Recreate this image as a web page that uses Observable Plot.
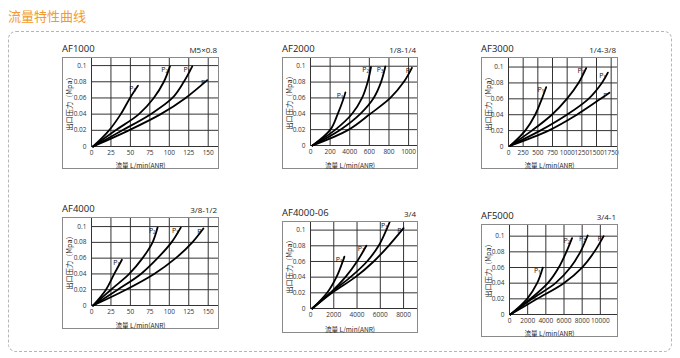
<!DOCTYPE html>
<html><head><meta charset="utf-8">
<script src="https://cdn.jsdelivr.net/npm/d3@7"></script>
<script src="https://cdn.jsdelivr.net/npm/@observablehq/plot@0.6"></script>
<style>
html,body{margin:0;padding:0;background:#fff;}
#root{position:relative;width:680px;height:358px;overflow:hidden;font-family:"Open Sans","Noto Sans CJK SC",sans-serif;color:#222;}
.abs{position:absolute;white-space:nowrap;}
.frame{position:absolute;box-sizing:border-box;border:1px solid #8a8a8a;pointer-events:none;}
.plotbox{position:absolute;}
.plotbox svg{display:block;overflow:visible;}
</style></head>
<body><div id="root"></div>
<script>
// ---------- text ----------
const pageTitle = "流量特性曲线";
const yLabel = "出口压力（Mpa）";
const xLabel = "流量 L/min(ANR)";
const curveLabels = ["P₁", "P₂", "P₃", "P"];
const models = ["AF1000", "AF2000", "AF3000", "AF4000", "AF4000-06", "AF5000"];
const ports = ["M5×0.8", "1/8-1/4", "1/4-3/8", "3/8-1/2", "3/4", "3/4-1"];

// ---------- ticks ----------
const yTicks = [0, 0.02, 0.04, 0.06, 0.08, 0.1];
const yTickLabels = ["0", "0.02", "0.04", "0.06", "0.08", "0.1"];
const af1000Ticks = [0, 25, 50, 75, 100, 125, 150];
const af1000TickLabels = ["0", "25", "50", "75", "100", "125", "150"];
const af2000Ticks = [0, 200, 400, 600, 800, 1000];
const af2000TickLabels = ["0", "200", "4000", "600", "800", "1000"];
const af3000Ticks = [0, 250, 500, 750, 1000, 1250, 1500, 1750];
const af3000TickLabels = ["0", "250", "500", "750", "1000", "1250", "1500", "1750"];
const af4000Ticks = [0, 25, 50, 75, 100, 125, 150];
const af4000TickLabels = ["0", "25", "50", "75", "100", "125", "150"];
const af400006Ticks = [0, 2000, 4000, 6000, 8000];
const af400006TickLabels = ["0", "2000", "4000", "6000", "8000"];
const af5000Ticks = [0, 2000, 4000, 6000, 8000, 10000];
const af5000TickLabels = ["0", "2000", "4000", "6000", "8000", "10000"];

// ---------- curves: [flow L/min, outlet pressure MPa] ----------
const af1000Curves = [
  [[2,0],[22.6,0.02],[37.6,0.04],[49.5,0.06],[59.7,0.075]],
  [[2,0],[31,0.02],[61,0.04],[80,0.06],[93,0.08],[100.8,0.099]],
  [[2,0],[39.7,0.02],[76,0.04],[104,0.06],[118.7,0.08],[129.5,0.099]],
  [[2,0],[48,0.02],[89,0.04],[121,0.06],[148.7,0.082]]
];
const af2000Curves = [
  [[20,0],[203,0.02],[278,0.04],[339,0.06],[356,0.067]],
  [[20,0],[254,0.02],[424,0.04],[526,0.06],[583,0.08],[617,0.099]],
  [[20,0],[305,0.02],[508,0.04],[644,0.06],[719,0.08],[763,0.0996]],
  [[20,0],[390,0.02],[610,0.04],[814,0.06],[950,0.08],[1034,0.098]]
];
const af3000Curves = [
  [[30,0.001],[285,0.02],[455,0.04],[569,0.06],[642,0.0746]],
  [[30,0.001],[398,0.02],[739,0.04],[995,0.06],[1193,0.08],[1324,0.0987]],
  [[30,0.001],[540,0.02],[995,0.04],[1364,0.06],[1591,0.08],[1694,0.093]],
  [[30,0.001],[682,0.02],[1165,0.04],[1570,0.06],[1721,0.0677]]
];
const af4000Curves = [
  [[2,0],[18.6,0.02],[29.2,0.04],[39.1,0.058]],
  [[2,0],[25,0.02],[48.5,0.04],[65.6,0.06],[78.5,0.08],[84.9,0.0987]],
  [[2,0],[33.6,0.02],[63.5,0.04],[84.9,0.06],[102.8,0.08],[114.7,0.0987]],
  [[2,0],[44.2,0.02],[80.5,0.04],[108.3,0.06],[129.6,0.08],[143.8,0.0975]]
];
const af400006Curves = [
  [[150,0],[1429,0.02],[2229,0.04],[2771,0.06],[2914,0.0662]],
  [[150,0],[1714,0.02],[3000,0.04],[4000,0.06],[4800,0.08]],
  [[150,0],[1714,0.02],[3429,0.04],[4857,0.06],[5857,0.08],[6514,0.1],[6800,0.110]],
  [[150,0],[1857,0.02],[3857,0.04],[5429,0.06],[6714,0.08],[8000,0.1025]]
];
const af5000Curves = [
  [[100,0],[1941,0.02],[3040,0.04],[3663,0.0598]],
  [[100,0],[2308,0.02],[4212,0.04],[5421,0.06],[6264,0.08],[6886,0.0975]],
  [[100,0],[2491,0.02],[5055,0.04],[6703,0.06],[7802,0.08],[8608,0.1009]],
  [[100,0],[3040,0.02],[5971,0.04],[7989,0.06],[9341,0.08],[10366,0.100]]
];

// ---------- layout (pixels) ----------
const layout = [
  {L:62,  T:57,  W:157, H:112, mL:29, mB:23, xMax:164.5, yMax:0.110},
  {L:282, T:57,  W:136, H:112, mL:28, mB:24, xMax:1101,  yMax:0.111},
  {L:481, T:57,  W:137, H:112, mL:27, mB:23, xMax:1875,  yMax:0.112},
  {L:62,  T:217, W:157, H:112, mL:29, mB:24, xMax:164.5, yMax:0.1115},
  {L:282, T:221, W:136, H:112, mL:28, mB:25, xMax:9283,  yMax:0.111},
  {L:481, T:224, W:137, H:113, mL:28, mB:23, xMax:12000, yMax:0.1149}
];
const panelTicks = [af1000Ticks, af2000Ticks, af3000Ticks, af4000Ticks, af400006Ticks, af5000Ticks];
const panelTickLabels = [af1000TickLabels, af2000TickLabels, af3000TickLabels, af4000TickLabels, af400006TickLabels, af5000TickLabels];
const panelCurves = [af1000Curves, af2000Curves, af3000Curves, af4000Curves, af400006Curves, af5000Curves];

const root = document.getElementById("root");
function addDiv(cls, css, text) {
  const d = document.createElement("div");
  d.className = cls;
  Object.assign(d.style, css);
  if (text != null) d.textContent = text;
  root.appendChild(d);
  return d;
}

// dashed outline and page title
addDiv("abs", {left:"8px", top:"31px", width:"664px", height:"321px", boxSizing:"border-box",
  border:"1px dashed #b5b5b5", borderRadius:"8px"});
addDiv("abs", {left:"8px", top:"7px", fontSize:"13px", lineHeight:"18px", color:"#f39a2e",
  fontFamily:"'Noto Sans CJK SC',sans-serif"}, pageTitle);

const yMap = new Map(yTicks.map((t, i) => [t, yTickLabels[i]]));

layout.forEach((s, p) => {
  const ticks = panelTicks[p];
  const xMap = new Map(ticks.map((t, i) => [t, panelTickLabels[p][i]]));
  const curves = panelCurves[p];
  const pts = curves.flatMap((c, k) => c.map(([x, y]) => ({x, y, k})));
  const ends = curves.map((c, k) => ({x: c[c.length - 1][0], y: c[c.length - 1][1], label: curveLabels[k]}));
  const base = () => ({
    width: s.W, height: s.H,
    marginLeft: s.mL, marginRight: 0, marginTop: 0, marginBottom: s.mB,
    style: {fontFamily: "'Open Sans',sans-serif", fontSize: "6.5px", color: "#333", background: "transparent", overflow: "visible"}
  });

  // layer 1: grid
  const grid = Plot.plot({
    ...base(),
    x: {domain: [0, s.xMax], axis: null},
    y: {domain: [0, s.yMax], axis: null},
    marks: [
      Plot.ruleX(ticks, {x: d => d, y1: 0, y2: s.yMax, stroke: "#333", strokeWidth: 1}),
      Plot.ruleY(yTicks, {y: d => d, x1: 0, x2: s.xMax, stroke: "#333", strokeWidth: 1})
    ]
  });
  addDiv("plotbox", {left: s.L + "px", top: s.T + "px", width: s.W + "px", height: s.H + "px"}).appendChild(grid);

  // layer 2: axes and curves
  const chart = Plot.plot({
    ...base(),
    x: {domain: [0, s.xMax]},
    y: {domain: [0, s.yMax]},
    marks: [
      Plot.axisX(ticks, {tickSize: 0, tickPadding: 3.5, tickFormat: d => xMap.get(d), fontSize: 6.5, label: null, fill: "#333"}),
      Plot.axisY(yTicks, {tickSize: 0, tickPadding: 5, tickFormat: d => yMap.get(d), fontSize: 6.5, label: null, fill: "#333"}),
      Plot.line(pts, {x: "x", y: "y", z: "k", curve: "catmull-rom", stroke: "#000", strokeWidth: 1.8}),
      Plot.text(ends, {x: "x", y: "y", text: "label", textAnchor: "end", dx: -2, dy: 3, fontSize: 7, fill: "#111"})
    ]
  });
  addDiv("plotbox", {left: s.L + "px", top: s.T + "px", width: s.W + "px", height: s.H + "px"}).appendChild(chart);

  addDiv("frame", {left: s.L + "px", top: s.T + "px", width: s.W + "px", height: s.H + "px"});

  // panel title (model) and port size
  addDiv("abs", {left: s.L + "px", top: (s.T - 14) + "px", fontSize: "9.5px", lineHeight: "12px", color: "#222"}, models[p]);
  addDiv("abs", {left: (s.L + s.W - 60) + "px", width: "58px", textAlign: "right", top: (s.T - 12) + "px",
    fontSize: "8px", lineHeight: "10px", color: "#222"}, ports[p]);

  // axis titles
  const y0 = s.T + s.H - s.mB;
  addDiv("abs", {left: (s.L + 6.5) + "px", top: ((s.T + y0) / 2) + "px", fontSize: "7.2px", lineHeight: "8px",
    transform: "translate(-50%,-50%) rotate(-90deg)", fontFamily: "'Noto Sans CJK SC',sans-serif", color: "#222"}, yLabel);
  addDiv("abs", {left: (s.L + s.W / 2) + "px", top: (s.T + s.H - 4.5) + "px", fontSize: "6.6px", lineHeight: "8px",
    transform: "translate(-50%,-50%)", fontFamily: "'Noto Sans CJK SC','Open Sans',sans-serif", color: "#222"}, xLabel);
});
</script>
</body></html>
